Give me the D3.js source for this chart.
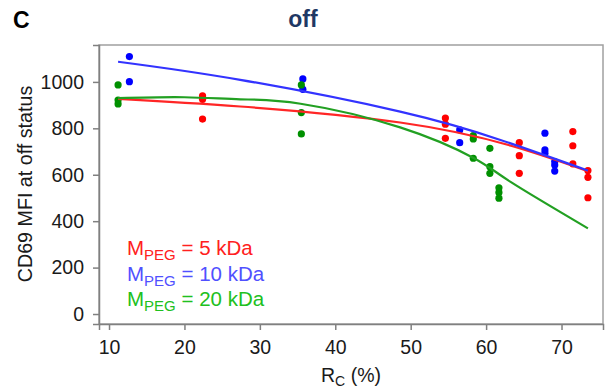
<!DOCTYPE html>
<html>
<head>
<meta charset="utf-8">
<script src="https://cdn.jsdelivr.net/npm/d3@7"></script>
<style>
  html, body { margin: 0; padding: 0; background: #fff; overflow: hidden; }
  svg { display: block; }
  text { font-family: "Liberation Sans", Arial, sans-serif; }
</style>
</head>
<body>
<div id="chart"></div>
<script>
// scatter points: [Rc %, MFI]
let peg5Points = [
  [22.4, 940], [22.4, 925], [22.4, 840],
  [54.6, 844], [54.6, 818], [54.6, 757],
  [64.4, 738], [64.4, 682], [64.4, 606],
  [71.5, 786], [71.5, 725], [71.5, 647],
  [73.5, 618], [73.5, 589], [73.5, 501]
]
let peg10Points = [
  [12.7, 1109], [12.7, 1001],
  [35.7, 1013], [35.7, 968],
  [56.5, 793], [56.5, 738],
  [67.8, 779], [67.8, 707], [67.8, 693],
  [69.1, 657], [69.1, 642], [69.1, 616]
]
let peg20Points = [
  [11.2, 987], [11.2, 922], [11.2, 905],
  [35.5, 987], [35.5, 868], [35.5, 776],
  [58.3, 769], [58.3, 754], [58.3, 671],
  [60.5, 714], [60.5, 635], [60.5, 606],
  [61.7, 544], [61.7, 524], [61.7, 499]
]

// fitted curves
let peg5Fit = [[11.2, 927], [27.4, 894], [48.6, 825], [63.3, 725], [73.5, 615]]
let peg10Fit = [[11.2, 1087], [27.4, 1009], [48.6, 872], [61.9, 750], [73.5, 618]]
let peg20Fit = [[11.2, 930], [20, 934], [27.4, 925], [35.4, 906], [48.6, 804], [58.4, 671], [63.3, 568], [73.5, 369]]

let xTicks = [10, 20, 30, 40, 50, 60, 70]
let yTicks = [0, 200, 400, 600, 800, 1000]

let series = [
  { label: '5 kDa', points: peg5Points, fit: peg5Fit, dot: '#ff0000', line: '#ff2626', text: '#ff2020' },
  { label: '10 kDa', points: peg10Points, fit: peg10Fit, dot: '#0000ff', line: '#3333ff', text: '#5050ff' },
  { label: '20 kDa', points: peg20Points, fit: peg20Fit, dot: '#009000', line: '#22a022', text: '#20c020' }
]

let width = 605
let height = 391
let margin = { top: 45, right: 2, bottom: 67, left: 99 }
let innerWidth = width - margin.left - margin.right
let innerHeight = height - margin.top - margin.bottom

let svg = d3.select('#chart').append('svg')
  .attr('width', width)
  .attr('height', height)

let xScale = d3.scaleLinear().domain([8.67, 75.5]).range([0, innerWidth])
let yScale = d3.scaleLinear().domain([-43, 1159]).range([innerHeight, 0])

let g = svg.append('g')
  .attr('transform', 'translate(' + margin.left + ',' + margin.top + ')')

// frame
g.append('rect')
  .attr('width', innerWidth)
  .attr('height', innerHeight)
  .attr('fill', 'none')
  .attr('stroke', '#a0a0a0')
  .attr('stroke-width', 1.5)

let xAxis = g.append('g')
  .attr('transform', 'translate(0,' + innerHeight + ')')
  .call(d3.axisBottom(xScale).tickValues(xTicks).tickFormat(d3.format('d')).tickSize(6).tickPadding(10))
let yAxis = g.append('g')
  .call(d3.axisLeft(yScale).tickValues(yTicks).tickFormat(d3.format('d')).tickSize(6).tickPadding(9))

for (let ax of [xAxis, yAxis]) {
  ax.attr('font-family', '"Liberation Sans", Arial, sans-serif').attr('font-size', 19.5)
  ax.select('.domain').attr('stroke', '#808080').attr('stroke-width', 1.5)
  ax.selectAll('.tick line').attr('stroke', '#808080').attr('stroke-width', 1.5)
  ax.selectAll('.tick text').attr('fill', '#1a1a1a')
}

let line = d3.line()
  .x(function (d) { return xScale(d[0]) })
  .y(function (d) { return yScale(d[1]) })
  .curve(d3.curveNatural)

series.forEach(function (s) {
  g.append('g').selectAll('circle')
    .data(s.points)
    .enter()
    .append('circle')
    .attr('cx', function (d) { return xScale(d[0]) })
    .attr('cy', function (d) { return yScale(d[1]) })
    .attr('r', 3.6)
    .attr('fill', s.dot)
})

series.forEach(function (s) {
  g.append('path')
    .datum(s.fit)
    .attr('d', line)
    .attr('fill', 'none')
    .attr('stroke', s.line)
    .attr('stroke-width', 2.2)
})

// legend
let legend = g.append('g').attr('transform', 'translate(28,210)')
series.forEach(function (s, i) {
  let t = legend.append('text')
    .attr('y', i * 25.5)
    .attr('fill', s.text)
    .attr('font-size', 20.5)
  t.append('tspan').text('M')
  t.append('tspan').attr('dy', 5).attr('font-size', 15).text('PEG')
  t.append('tspan').attr('dy', -5).text(' = ' + s.label)
})

// axis titles
svg.append('text')
  .attr('transform', 'translate(32,' + (margin.top + 139) + ') rotate(-90)')
  .attr('text-anchor', 'middle')
  .attr('fill', '#1a1a1a')
  .attr('font-size', 19.7)
  .text('CD69 MFI at off status')

let xTitle = svg.append('text')
  .attr('x', 351)
  .attr('y', 382)
  .attr('text-anchor', 'middle')
  .attr('fill', '#1a1a1a')
  .attr('font-size', 19.5)
xTitle.append('tspan').text('R')
xTitle.append('tspan').attr('dy', 4).attr('font-size', 14).text('C')
xTitle.append('tspan').attr('dy', -4).text(' (%)')

svg.append('text')
  .attr('x', 303)
  .attr('y', 27)
  .attr('text-anchor', 'middle')
  .attr('fill', '#1f3864')
  .attr('font-size', 23)
  .attr('font-weight', 'bold')
  .text('off')

svg.append('text')
  .attr('x', 13)
  .attr('y', 28)
  .attr('fill', '#000')
  .attr('font-size', 23)
  .attr('font-weight', 'bold')
  .text('C')
</script>
</body>
</html>
